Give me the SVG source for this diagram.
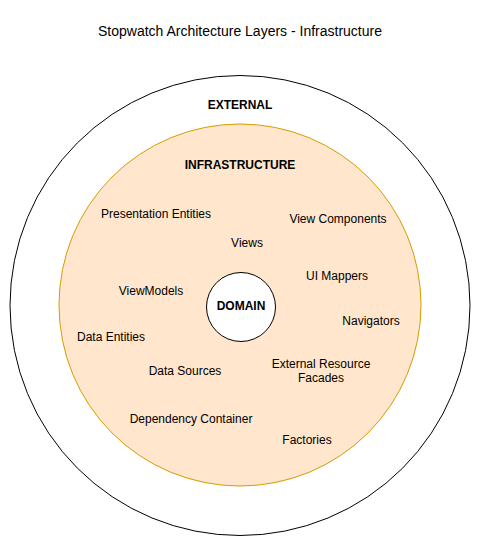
<svg xmlns="http://www.w3.org/2000/svg" width="482" height="546" viewBox="0 0 482 546">
<style>
text{font-family:"Liberation Sans",Arial,Helvetica,sans-serif;font-size:12px;fill:#000;text-anchor:middle;dominant-baseline:central}
.b{font-weight:bold}
.t{font-size:14px}
</style>
<rect width="482" height="546" fill="#fff"/>
<text class="t" x="240" y="31">Stopwatch Architecture Layers - Infrastructure</text>
<g id="external">
<circle cx="240" cy="305.5" r="230" fill="#fff" stroke="#000" stroke-width="1"/>
<text class="b" x="240" y="105">EXTERNAL</text>
</g>
<g id="infrastructure">
<circle cx="240" cy="305" r="181" fill="#ffe6cc" stroke="#d79b00" stroke-width="1"/>
<text class="b" x="240" y="165">INFRASTRUCTURE</text>
<text x="156" y="214">Presentation Entities</text>
<text x="338" y="219">View Components</text>
<text x="247" y="243">Views</text>
<text x="337" y="276">UI Mappers</text>
<text x="151" y="291">ViewModels</text>
<text x="371" y="321">Navigators</text>
<text x="111" y="337">Data Entities</text>
<text x="185" y="371">Data Sources</text>
<text x="321" y="364">External Resource</text>
<text x="321" y="378">Facades</text>
<text x="191" y="419">Dependency Container</text>
<text x="307" y="440">Factories</text>
</g>
<g id="domain">
<circle cx="241" cy="307" r="34.5" fill="#fff" stroke="#000" stroke-width="1"/>
<text class="b" x="241" y="306">DOMAIN</text>
</g>
<g id="connectors"/>
</svg>
